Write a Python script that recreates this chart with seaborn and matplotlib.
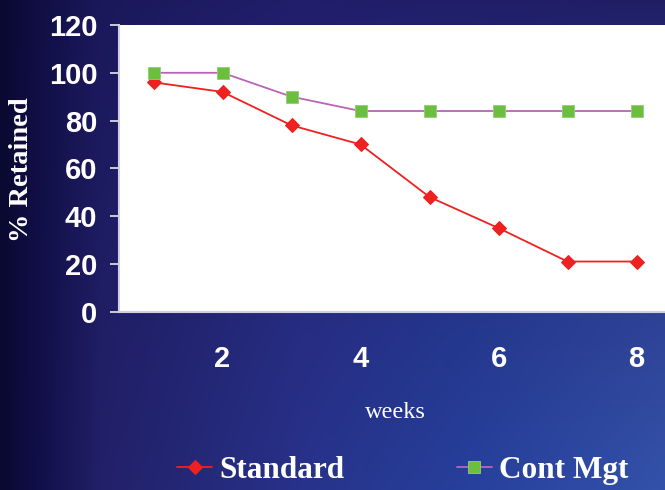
import numpy as np
import pandas as pd
import matplotlib
matplotlib.use("Agg")
import matplotlib.pyplot as plt
import seaborn as sns

# Retention by week for the two approaches
weeks = [1, 2, 3, 4, 5, 6, 7, 8]
standard = [96, 92, 78, 70, 48, 35, 21, 21]
cont_mgt = [100, 100, 90, 84, 84, 84, 84, 84]
series_names = ["Standard", "Cont Mgt"]
y_ticks = [0, 20, 40, 60, 80, 100, 120]
x_labels = [2, 4, 6, 8]

df = pd.DataFrame({
    "week": weeks * 2,
    "retained": standard + cont_mgt,
    "group": [series_names[0]] * len(weeks) + [series_names[1]] * len(weeks),
})

sns.set_style("white")
plt.rcParams["font.family"] = ["Liberation Sans", "DejaVu Sans"]

W, H = 665, 490
fig = plt.figure(figsize=(W / 100, H / 100), dpi=100)

# Slide-style background: dark navy on the left fading to blue, darker at the top
bg = fig.add_axes([0, 0, 1, 1], zorder=-10)
xs = np.linspace(0, 1, W)
top_stops = [0, 0.05, 0.15, 0.45, 1.0]
top_cols = np.array([(10, 9, 48), (16, 14, 66), (26, 24, 90), (33, 30, 106), (31, 30, 100)])
bot_stops = [0, 0.05, 0.15, 0.45, 0.7, 1.0]
bot_cols = np.array([(10, 9, 48), (16, 14, 70), (34, 32, 104), (40, 50, 138), (38, 64, 156), (52, 82, 170)])
top_row = np.stack([np.interp(xs, top_stops, top_cols[:, c]) for c in range(3)], axis=-1)
bot_row = np.stack([np.interp(xs, bot_stops, bot_cols[:, c]) for c in range(3)], axis=-1)
t = np.linspace(0, 1, H)[:, None, None] ** 0.8
img = (top_row[None] * (1 - t) + bot_row[None] * t) / 255.0
bg.imshow(img, aspect="auto", extent=[0, 1, 0, 1], origin="upper")
bg.axis("off")

ax = fig.add_axes([119 / W, (H - 311.7) / H, 552 / W, 286.7 / H])
ax.set_facecolor("white")

palette = {"Standard": "#ee2020", "Cont Mgt": "#b865b8"}
sns.lineplot(data=df[df.group == "Standard"], x="week", y="retained", ax=ax,
             color=palette["Standard"], lw=1.3, marker="D", markersize=7.2,
             markerfacecolor="#ee2020", markeredgecolor="#ee2020", label="Standard")
sns.lineplot(data=df[df.group == "Cont Mgt"], x="week", y="retained", ax=ax,
             color=palette["Cont Mgt"], lw=1.3, marker="s", markersize=9,
             markerfacecolor="#6cbf3e", markeredgecolor="#8fd070", markeredgewidth=0.6,
             label="Cont Mgt")

ax.set_xlim(0.5, 8.5)
ax.set_ylim(0, 120)
ax.set_yticks(y_ticks)

# category boundaries carry the tick marks, labels sit under every other week
ax.set_xticks(np.arange(0.5, 9.0, 1.0), minor=True)
ax.set_xticks(x_labels)
ax.set_xticklabels([str(v) for v in x_labels])
ax.tick_params(axis="x", which="major", length=0, pad=24, labelsize=21,
               labelcolor="white")
ax.tick_params(axis="x", which="minor", length=7, width=1.3, color="#d8d8e6",
               direction="out")
ax.tick_params(axis="y", length=6.5, width=1.3, color="#d8d8e6", pad=9,
               labelsize=21, labelcolor="white", direction="out", left=True)
for lab in ax.get_xticklabels() + ax.get_yticklabels():
    lab.set_fontweight("bold")

for side in ["top", "right"]:
    ax.spines[side].set_visible(False)
for side in ["left", "bottom"]:
    ax.spines[side].set_color("#d0d0e2")
    ax.spines[side].set_linewidth(1.5)

ax.set_ylabel("% Retained", family=["Liberation Serif", "DejaVu Serif"],
              fontweight="bold", fontsize=20.5, color="white", va="center")
ax.yaxis.set_label_coords(-0.176, 0.494)
ax.set_xlabel("weeks", family=["Liberation Serif", "DejaVu Serif"],
              fontsize=17.5, color="white", va="center")
ax.xaxis.set_label_coords(0.5, -0.35)

handles, labels = ax.get_legend_handles_labels()
ax.get_legend().remove()
leg = fig.legend(handles, labels, loc="center", bbox_to_anchor=(403 / W, (H - 470) / H),
                 ncol=2, frameon=False, handlelength=1.1, handletextpad=0.25,
                 columnspacing=3.6, borderaxespad=0,
                 prop={"family": ["Liberation Serif", "DejaVu Serif"],
                       "weight": "bold", "size": 22.5})
for txt in leg.get_texts():
    txt.set_color("white")

fig.savefig("out.png", dpi=100)
